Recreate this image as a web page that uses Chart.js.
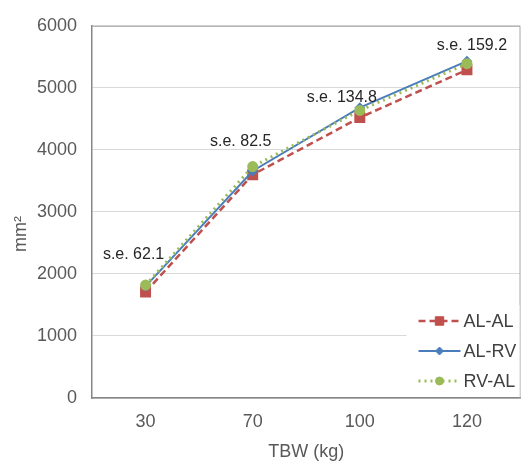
<!DOCTYPE html>
<html>
<head>
<meta charset="utf-8">
<title>TBW chart</title>
<script src="https://cdn.jsdelivr.net/npm/chart.js@4.4.1/dist/chart.umd.min.js"></script>
<style>
  body { margin: 0; background: #fff; }
  canvas { display: block; }
</style>
</head>
<body>
<canvas id="tbwChart" width="529" height="468"></canvas>
<script>
// categories and series
const weights = ['30', '70', '100', '120'];
const alAl = [1710, 3600, 4520, 5290];
const alRv = [1800, 3660, 4680, 5430];
const rvAl = [1820, 3730, 4635, 5390];
const seLabels = ['s.e. 62.1', 's.e. 82.5', 's.e. 134.8', 's.e. 159.2'];
const yTicks = [0, 1000, 2000, 3000, 4000, 5000, 6000];

const FONT = "'Liberation Sans', Arial, sans-serif";

document.addEventListener('DOMContentLoaded', function() {
    // frame on the top and right of the plot area
    const frame = {
        id: 'frame',
        beforeDatasetsDraw(chart) {
            const a = chart.chartArea;
            const ctx = chart.ctx;
            ctx.save();
            ctx.strokeStyle = '#a6a6a6';
            ctx.lineWidth = 1;
            ctx.beginPath();
            ctx.moveTo(a.left, a.top + 0.5);
            ctx.lineTo(a.right - 0.5, a.top + 0.5);
            ctx.lineTo(a.right - 0.5, a.bottom);
            ctx.stroke();
            ctx.restore();
        }
    };

    // y axis title, centred a little below the middle
    const yTitle = {
        id: 'yTitle',
        afterDraw(chart) {
            const ctx = chart.ctx;
            ctx.save();
            ctx.translate(21, 234);
            ctx.rotate(-Math.PI / 2);
            ctx.font = '18px ' + FONT;
            ctx.fillStyle = '#595959';
            ctx.textAlign = 'center';
            ctx.textBaseline = 'middle';
            ctx.fillText('mm²', 0, 0);
            ctx.restore();
        }
    };

    // standard error notes above each group of points
    const seNotes = {
        id: 'seNotes',
        afterDatasetsDraw(chart) {
            const xs = chart.scales.x, ys = chart.scales.y;
            const shift = [[-12, -31], [-12, -25], [-18, -10], [5, -16]];
            const ctx = chart.ctx;
            ctx.save();
            ctx.font = '16px ' + FONT;
            ctx.fillStyle = '#262626';
            ctx.textAlign = 'center';
            ctx.textBaseline = 'middle';
            seLabels.forEach((txt, i) => {
                const top = Math.max(alAl[i], alRv[i], rvAl[i]);
                const x = xs.getPixelForValue(i) + shift[i][0];
                const y = ys.getPixelForValue(top) + shift[i][1];
                ctx.fillText(txt, x, y);
            });
            ctx.restore();
        }
    };

    // legend drawn inside the plot, bottom right, line + marker per series
    const innerLegend = {
        id: 'innerLegend',
        afterDraw(chart) {
            const a = chart.chartArea;
            const ctx = chart.ctx;
            const left = a.right - 114;
            ctx.save();
            ctx.fillStyle = '#fff';
            ctx.fillRect(left, a.bottom - 93, 113, 92);
            chart.data.datasets.forEach((ds, i) => {
                const y = a.bottom - 77 + i * 30;
                const x0 = left + 12;
                ctx.strokeStyle = ds.borderColor;
                ctx.lineWidth = ds.borderWidth;
                ctx.setLineDash(ds.borderDash || []);
                ctx.beginPath();
                ctx.moveTo(x0, y);
                ctx.lineTo(x0 + 42, y);
                ctx.stroke();
                ctx.setLineDash([]);
                ctx.fillStyle = ds.pointBackgroundColor;
                ctx.strokeStyle = ds.pointBorderColor;
                ctx.lineWidth = 1;
                Chart.helpers.drawPoint(ctx, {
                    pointStyle: ds.pointStyle,
                    radius: ds.pointRadius,
                    rotation: 0,
                    borderWidth: 1
                }, x0 + 21, y);
                ctx.font = '18px ' + FONT;
                ctx.fillStyle = '#404040';
                ctx.textAlign = 'left';
                ctx.textBaseline = 'middle';
                ctx.fillText(ds.label, x0 + 45, y + 1);
            });
            ctx.restore();
        }
    };

    const ctx = document.getElementById('tbwChart').getContext('2d');
    new Chart(ctx, {
        type: 'line',
        data: {
            labels: weights,
            datasets: [{
                label: 'AL-AL',
                data: alAl,
                borderColor: '#c0504d',
                backgroundColor: '#c0504d',
                pointBackgroundColor: '#c0504d',
                pointBorderColor: '#c0504d',
                borderWidth: 2.5,
                borderDash: [7, 4],
                pointStyle: 'rect',
                pointRadius: 6,
                order: 2
            }, {
                label: 'AL-RV',
                data: alRv,
                borderColor: '#4a7ebb',
                backgroundColor: '#4a7ebb',
                pointBackgroundColor: '#4a7ebb',
                pointBorderColor: '#4a7ebb',
                borderWidth: 2,
                pointStyle: 'rectRot',
                pointRadius: 4,
                order: 1
            }, {
                label: 'RV-AL',
                data: rvAl,
                borderColor: '#9bbb59',
                backgroundColor: '#9bbb59',
                pointBackgroundColor: '#9bbb59',
                pointBorderColor: '#9bbb59',
                borderWidth: 3,
                borderDash: [2, 4],
                pointStyle: 'circle',
                pointRadius: 4,
                order: 0
            }]
        },
        options: {
            responsive: false,
            animation: false,
            layout: {
                padding: { top: 16, right: 2, left: 0, bottom: 0 }
            },
            scales: {
                x: {
                    offset: true,
                    grid: { display: false, drawTicks: false },
                    border: { color: '#868686', width: 1.5 },
                    ticks: {
                        padding: 13,
                        color: '#595959',
                        font: { family: FONT, size: 18 }
                    },
                    title: {
                        display: true,
                        text: 'TBW (kg)',
                        color: '#595959',
                        font: { family: FONT, size: 18 },
                        padding: { top: 0, bottom: 5 }
                    },
                    afterFit(scale) { scale.height = 70; }
                },
                y: {
                    min: 0,
                    max: 6000,
                    afterBuildTicks(scale) {
                        scale.ticks = yTicks.map(v => ({ value: v }));
                    },
                    grid: { color: '#d9d9d9', drawTicks: false },
                    border: { color: '#868686', width: 1.5 },
                    ticks: {
                        padding: 15,
                        color: '#595959',
                        font: { family: FONT, size: 18 },
                        callback: v => String(v)
                    },
                    afterFit(scale) { scale.width = 92; }
                }
            },
            plugins: {
                legend: { display: false },
                tooltip: { enabled: false }
            }
        },
        plugins: [frame, seNotes, innerLegend, yTitle]
    });
});
</script>
</body>
</html>
